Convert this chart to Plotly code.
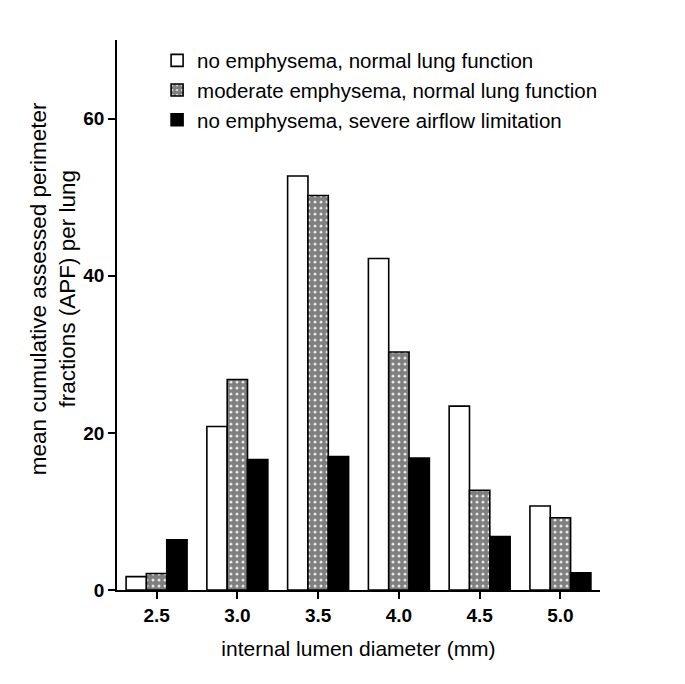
import plotly.graph_objects as go

categories = ["2.5", "3.0", "3.5", "4.0", "4.5", "5.0"]
no_emph_normal = [1.7, 20.8, 52.7, 42.2, 23.4, 10.7]
mod_emph_normal = [2.1, 26.8, 50.2, 30.3, 12.7, 9.2]
no_emph_severe = [6.4, 16.6, 17.0, 16.8, 6.8, 2.2]
series_names = [
    "no emphysema, normal lung function",
    "moderate emphysema, normal lung function",
    "no emphysema, severe airflow limitation",
]
y_title = "mean cumulative assessed perimeter<br>fractions (APF) per lung"
x_title = "internal lumen diameter (mm)"

FONT = "Liberation Sans, Arial, sans-serif"

fig = go.Figure()
fig.add_trace(go.Bar(
    x=categories, y=no_emph_normal, name=series_names[0],
    marker=dict(color="white", line=dict(color="black", width=1.6)),
))
fig.add_trace(go.Bar(
    x=categories, y=mod_emph_normal, name=series_names[1],
    marker=dict(color="white", line=dict(color="black", width=1.6),
                pattern=dict(shape=".", fgcolor="black", bgcolor="white",
                             size=6, solidity=0.8)),
))
fig.add_trace(go.Bar(
    x=categories, y=no_emph_severe, name=series_names[2],
    marker=dict(color="black", line=dict(color="black", width=1.6)),
))

fig.update_layout(
    width=685, height=684,
    paper_bgcolor="white", plot_bgcolor="white",
    margin=dict(l=109, r=93, t=32, b=102),
    barmode="group", bargap=0.245, bargroupgap=0,
    font=dict(family=FONT, size=21, color="black"),
    showlegend=True,
    legend=dict(x=0.083, y=0.999, xanchor="left", yanchor="top",
                bgcolor="rgba(0,0,0,0)", font=dict(size=20.5, family=FONT),
                tracegroupgap=0),
    annotations=[dict(
        text=y_title, textangle=-90, xref="paper", yref="paper",
        x=0, y=0.547, xanchor="center", yanchor="middle", xshift=-64,
        showarrow=False, font=dict(size=22.5, family=FONT, color="black"),
    )],
)
fig.update_xaxes(
    type="category", range=[-0.49, 5.49], automargin=False,
    showline=True, linecolor="black", linewidth=1.6,
    ticks="outside", ticklen=7, tickwidth=1.6, tickcolor="black",
    tickfont=dict(family=FONT, size=19, color="black", weight="bold"),
    showgrid=False, zeroline=False,
    title=dict(text=x_title, font=dict(size=21, family=FONT), standoff=17),
)
fig.update_yaxes(
    range=[0, 70], tickvals=[0, 20, 40, 60], automargin=False,
    showline=True, linecolor="black", linewidth=1.6,
    ticks="outside", ticklen=7, tickwidth=1.6, tickcolor="black",
    tickfont=dict(family=FONT, size=19, color="black", weight="bold"),
    showgrid=False, zeroline=False,
)

fig.write_html("out.html")
